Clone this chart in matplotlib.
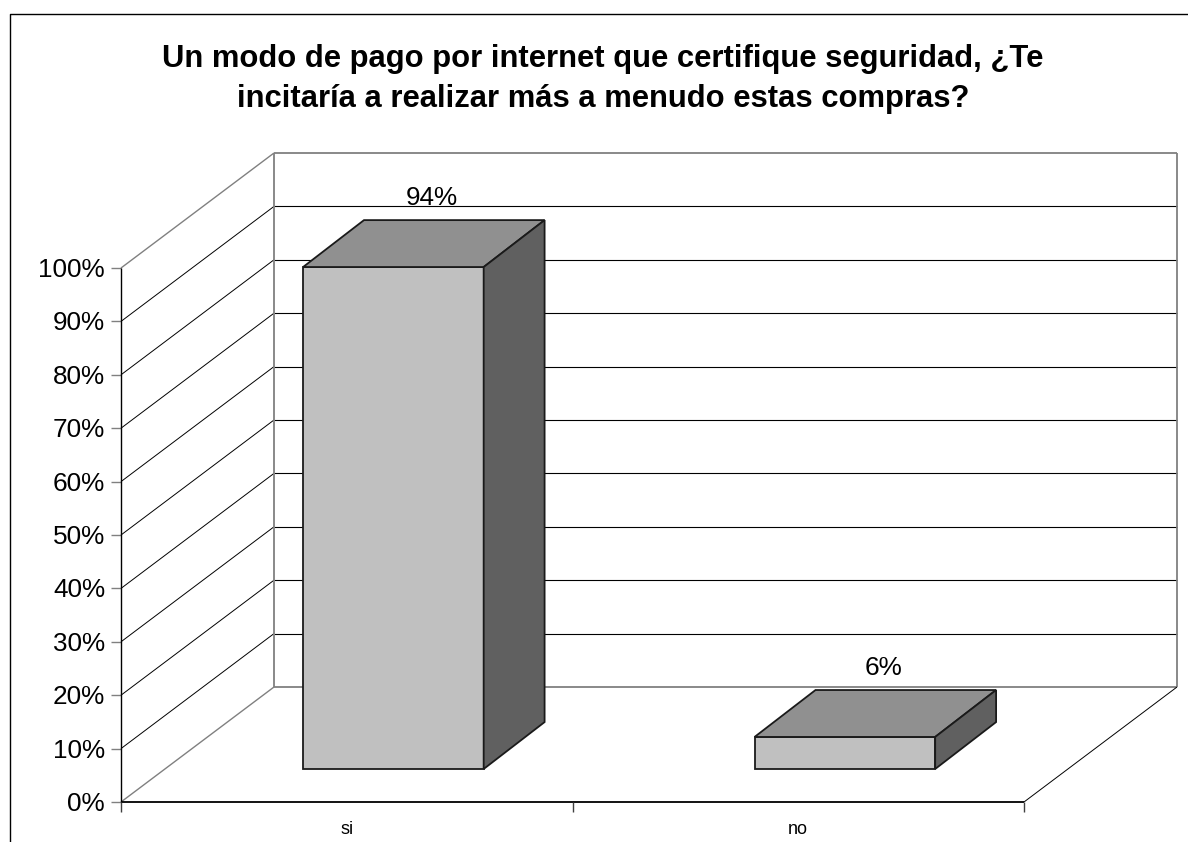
import matplotlib
matplotlib.use("Agg")
import numpy as np
import matplotlib.pyplot as plt
from matplotlib.patches import Polygon

title = "Un modo de pago por internet que certifique seguridad, ¿Te\nincitaría a realizar más a menudo estas compras?"
categories = ["si", "no"]
values = [94, 6]
value_labels = ["94%", "6%"]
y_ticks = [0, 10, 20, 30, 40, 50, 60, 70, 80, 90, 100]

plt.rcParams["font.family"] = ["Liberation Sans", "DejaVu Sans"]

# plot box geometry in pixels of the 1188x842 image
x0, y0 = 121, 802
cat_w = 451.5
px_per_pct = 5.34
depth_x, depth_y = 153, -115
bar_w = 0.4
bar_front, bar_back = 0.287, 0.695
bar_center = 0.506
back_shift = -1.5


def proj(cat, val, depth=0):
    # category position, percent, depth 0-1 -> pixel position
    return (x0 + cat * cat_w + depth * depth_x, y0 - val * px_per_pct + depth * depth_y)


def line(a, b, color="black", lw=0.8, z=2):
    ax.plot([a[0], b[0]], [a[1], b[1]], color=color, lw=lw, zorder=z, solid_capstyle="butt")


fig = plt.figure(figsize=(11.88, 8.42), dpi=100)
ax = fig.add_axes([0, 0, 1, 1])
ax.set_xlim(0, 1188)
ax.set_ylim(842, 0)
ax.axis("off")

# outer frame, only left and top are inside the picture
ax.plot([10, 10, 1188], [842, 14, 14], color="black", lw=1.0)

ax.text(603, 79, title, ha="center", va="center", fontsize=22.3, fontweight="bold",
        linespacing=1.47)

# walls
n_cats = len(categories)
for v in y_ticks:
    col = "#808080" if v in (0, 100) else "black"
    lw = 1.3 if v in (0, 100) else 0.8
    line(proj(0, v), proj(0, v, 1), col, 1.0 if v in (0, 100) else 0.7)
    line(proj(0, v, 1), proj(n_cats, v, 1), col, lw)
    line((x0 - 10, proj(0, v)[1]), proj(0, v), "#808080", 1.0)
    ax.text(105, proj(0, v)[1] + 2, f"{v}%", ha="right", va="center", fontsize=18.8, color="black")

line(proj(0, 0, 1), proj(0, 100, 1), "#808080", 1.3)
line(proj(n_cats, 0, 1), proj(n_cats, 100, 1), "#808080", 1.3)
line(proj(0, 0), proj(0, 100), "black", 1.0, 3)
line(proj(0, 0), proj(n_cats, 0), "black", 1.3, 3)
line(proj(n_cats, 0), proj(n_cats, 0, 1), "black", 0.7)

# category axis ticks and labels
for i in range(n_cats + 1):
    line(proj(i, 0), (proj(i, 0)[0], y0 + 10), "#404040", 1.0, 3)
for i, c in enumerate(categories):
    ax.text(proj(i + 0.5, 0)[0], 829, c, ha="center", va="center", fontsize=13)

# 3D bars
for i, v in enumerate(values):
    left = i + bar_center - bar_w / 2
    right = i + bar_center + bar_w / 2
    fl = proj(left, 0, bar_front)
    fr = proj(right, 0, bar_front)
    tl = proj(left, v, bar_front)
    tr = proj(right, v, bar_front)
    bl2 = proj(left, v, bar_back)
    br2 = proj(right, v, bar_back)
    br0 = proj(right, 0, bar_back)
    bl2 = (bl2[0] + back_shift, bl2[1])
    br2 = (br2[0] + back_shift, br2[1])
    br0 = (br0[0] + back_shift, br0[1])
    ax.add_patch(Polygon([fl, fr, tr, tl], fc="#c0c0c0", ec="#1a1a1a", lw=1.3, zorder=5))
    ax.add_patch(Polygon([tl, tr, br2, bl2], fc="#909090", ec="#1a1a1a", lw=1.3, zorder=5))
    ax.add_patch(Polygon([fr, br0, br2, tr], fc="#606060", ec="#1a1a1a", lw=1.3, zorder=5))
    top_mid = proj(i + bar_center, v, (bar_front + bar_back) / 2)
    back_y = proj(i + bar_center, v, bar_back)[1]
    ax.text(top_mid[0] + 7, back_y - 10, value_labels[i], ha="center", va="bottom",
            fontsize=18.8, zorder=6)

fig.savefig("out.png", dpi=100)
